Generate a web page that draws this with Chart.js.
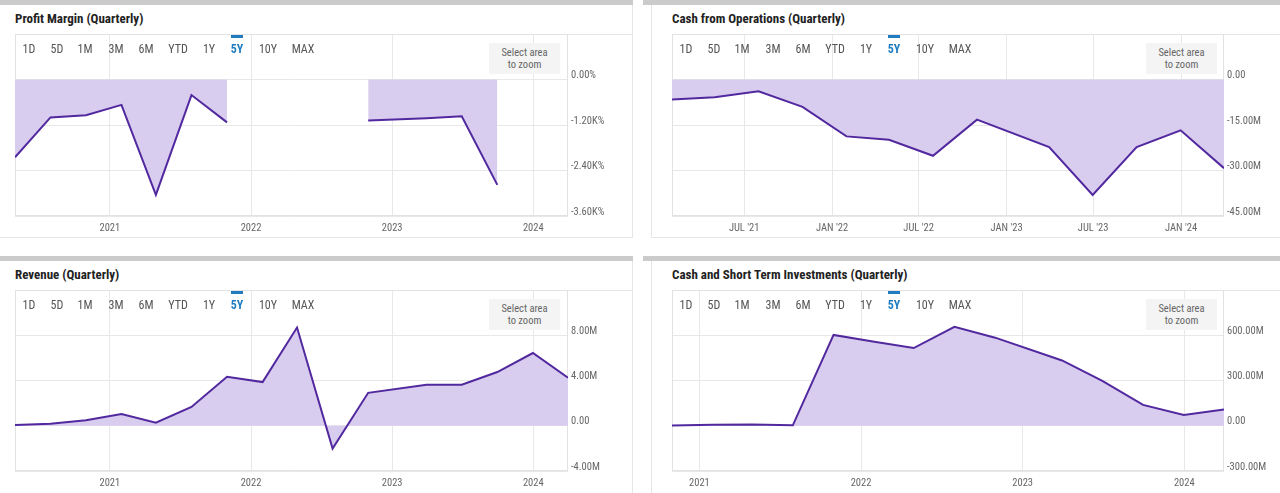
<!DOCTYPE html>
<html>
<head>
<meta charset="utf-8">
<script src="https://cdn.jsdelivr.net/npm/chart.js@4.4.1/dist/chart.umd.min.js"></script>
<style>
  html, body { margin: 0; padding: 0; width: 1280px; height: 493px; overflow: hidden; background: #ffffff; }
  body { position: relative; font-family: 'Roboto Condensed', 'Liberation Sans Narrow', 'DejaVu Sans Condensed', Roboto, sans-serif; }
  .bar { position: absolute; height: 5px; background: #cbcbcb; }
  .panel { position: absolute; box-sizing: border-box; background: #fff; }
  .title { position: absolute; font-size: 13px; font-weight: bold; color: #222; white-space: nowrap; line-height: 16px; }
  .sep { position: absolute; height: 1px; background: #e4e4e4; }
  .chartBox { position: absolute; }
  .rng { position: absolute; font-size: 12px; color: #555; transform: translateX(-50%); line-height: 14px; white-space: nowrap; }
  .rng.on { color: #1f7cc1; font-weight: bold; }
  .rngMark { position: absolute; width: 12px; height: 3px; background: #1f7cc1; }
  .zoomBox { position: absolute; width: 71px; height: 31px; background: #f4f4f4; color: #666; font-size: 10.5px; line-height: 12px; text-align: center; padding-top: 4px; box-sizing: border-box; }
</style>
</head>
<body>

<div class="bar" style="left:0; top:0; width:633px;"></div>
<div class="bar" style="left:643px; top:0; width:637px;"></div>
<div class="bar" style="left:0; top:256px; width:633px;"></div>
<div class="bar" style="left:643px; top:256px; width:637px;"></div>

<div id="panels"></div>

<script>
// ============================
// DADOS
// ============================

var quarterEnds = ['2020-04-30', '2020-07-31', '2020-10-31', '2021-01-31', '2021-04-30', '2021-07-31',
    '2021-10-31', '2022-01-31', '2022-04-30', '2022-07-31', '2022-10-31', '2023-03-31',
    '2023-06-30', '2023-09-30', '2023-12-31', '2024-03-31'];

// Profit margin, in %
var profitMargin = [-2050, -1000, -945, -670, -3040, -410, -1130, null, null, null, -1080, -1020, -970, -2780, null, null];
// Cash from operations, millions
var cashFromOps = [null, null, null, -6.6, -5.85, -3.86, -9.04, -18.75, -19.85, -25.15, -13.24, -22.28, -38.05, -22.28, -16.76, -29.23];
// Revenue, millions
var revenue = [0.06, 0.18, 0.48, 1.04, 0.27, 1.66, 4.33, 3.86, 8.68, -2.01, 2.91, 3.62, 3.62, 4.75, 6.43, 4.24];
// Cash and short term investments, millions
var cashInvestments = [null, null, 1, 6, 8, 3, 602, 557, 515, 656, 584, 433, 297, 138, 71, 107];

var yearTicks = ['2021-01-01', '2022-01-01', '2023-01-01', '2024-01-01'];
var yearTickLabels = ['2021', '2022', '2023', '2024'];
var halfYearTicks = ['2021-07-01', '2022-01-01', '2022-07-01', '2023-01-01', '2023-07-01', '2024-01-01'];
var halfYearTickLabels = ["JUL '21", "JAN '22", "JUL '22", "JAN '23", "JUL '23", "JAN '24"];

var rangeButtons = ['1D', '5D', '1M', '3M', '6M', 'YTD', '1Y', '5Y', '10Y', 'MAX'];
var rangeOffsets = [14, 42, 70, 101, 131, 163, 194, 222, 253, 288];

// ============================
// HELPERS
// ============================

function toYear(s) {
    var p = s.split('-');
    var y = +p[0];
    var t = Date.UTC(y, +p[1] - 1, +p[2]);
    var t0 = Date.UTC(y, 0, 1);
    var t1 = Date.UTC(y + 1, 0, 1);
    return y + (t - t0) / (t1 - t0);
}

var plotFrame = {
    id: 'plotFrame',
    beforeDatasetsDraw: function (chart) {
        var a = chart.chartArea;
        var ctx = chart.ctx;
        ctx.save();
        ctx.strokeStyle = '#e2e2e2';
        ctx.lineWidth = 1;
        ctx.strokeRect(Math.round(a.left) + 0.5, Math.round(a.top) + 0.5, Math.round(a.right - a.left) - 1, Math.round(a.bottom - a.top) - 1);
        ctx.restore();
    }
};

var tickFont = { family: "'Roboto Condensed', 'Liberation Sans Narrow', 'DejaVu Sans Condensed', Roboto, sans-serif", size: 10.5 };

function criarPainel(cfg) {
    var host = document.getElementById('panels');

    var panel = document.createElement('div');
    panel.className = 'panel';
    panel.style.left = cfg.left + 'px';
    panel.style.top = (cfg.top + 5) + 'px';
    panel.style.width = cfg.width + 'px';
    panel.style.height = cfg.height + 'px';
    panel.style.borderRight = cfg.borderRight ? '1px solid #e6e6e6' : 'none';
    panel.style.borderLeft = cfg.borderLeft ? '1px solid #e6e6e6' : 'none';
    panel.style.borderBottom = cfg.borderBottom ? '1px solid #e6e6e6' : 'none';
    host.appendChild(panel);

    var title = document.createElement('div');
    title.className = 'title';
    title.textContent = cfg.title;
    title.style.left = cfg.plotLeft + 'px';
    title.style.top = (cfg.top + 11) + 'px';
    host.appendChild(title);

    var sep = document.createElement('div');
    sep.className = 'sep';
    sep.style.left = cfg.plotLeft + 'px';
    sep.style.top = (cfg.top + 34) + 'px';
    sep.style.width = (cfg.left + cfg.width - cfg.plotLeft) + 'px';
    host.appendChild(sep);

    var box = document.createElement('div');
    box.className = 'chartBox';
    box.style.left = (cfg.plotLeft - 15) + 'px';
    box.style.top = (cfg.top + 34) + 'px';
    var canvas = document.createElement('canvas');
    canvas.width = cfg.canvasWidth;
    canvas.height = cfg.canvasHeight;
    box.appendChild(canvas);
    host.appendChild(box);

    rangeButtons.forEach(function (b, i) {
        var s = document.createElement('span');
        s.className = 'rng' + (b === '5Y' ? ' on' : '');
        s.textContent = b;
        s.style.left = (cfg.plotLeft + rangeOffsets[i]) + 'px';
        s.style.top = (cfg.top + 42) + 'px';
        host.appendChild(s);
        if (b === '5Y') {
            var m = document.createElement('div');
            m.className = 'rngMark';
            m.style.left = (cfg.plotLeft + rangeOffsets[i] - 6) + 'px';
            m.style.top = (cfg.top + 35) + 'px';
            host.appendChild(m);
        }
    });

    var z = document.createElement('div');
    z.className = 'zoomBox';
    z.innerHTML = 'Select area<br>to zoom';
    z.style.left = (cfg.plotLeft + 474) + 'px';
    z.style.top = (cfg.top + 43) + 'px';
    host.appendChild(z);

    var pts = [];
    quarterEnds.forEach(function (d, i) {
        pts.push({ x: toYear(d), y: cfg.values[i] });
    });

    var tickVals = cfg.ticks.map(toYear);

    return new Chart(canvas, {
        type: 'line',
        data: {
            datasets: [{
                data: pts,
                borderColor: '#52289f',
                backgroundColor: '#d8cdef',
                borderWidth: 2,
                pointRadius: 0,
                fill: 'origin',
                tension: 0,
                spanGaps: false
            }]
        },
        plugins: [plotFrame],
        options: {
            responsive: false,
            animation: false,
            layout: { padding: { left: 15, right: 0, top: 0, bottom: 0 } },
            plugins: { legend: { display: false }, tooltip: { enabled: false } },
            scales: {
                x: {
                    type: 'linear',
                    min: toYear(cfg.xStart),
                    max: toYear(quarterEnds[quarterEnds.length - 1]),
                    afterBuildTicks: function (axis) {
                        axis.ticks = tickVals.map(function (v) { return { value: v }; });
                    },
                    afterFit: function (axis) {
                        axis.height = 21;
                        axis.paddingLeft = 0;
                        axis.paddingRight = 0;
                    },
                    grid: { color: '#e8e8e8', drawTicks: false },
                    border: { display: false },
                    ticks: {
                        autoSkip: false,
                        maxRotation: 0,
                        padding: 6,
                        color: '#666',
                        font: tickFont,
                        callback: function (v) {
                            var i = tickVals.indexOf(v);
                            return i >= 0 ? cfg.tickLabels[i] : '';
                        }
                    }
                },
                y: {
                    position: 'right',
                    min: cfg.yMin,
                    max: cfg.yMax,
                    afterFit: function (axis) {
                        axis.width = cfg.axisWidth;
                        axis.paddingTop = 0;
                        axis.paddingBottom = 0;
                    },
                    grid: { color: '#e8e8e8', drawTicks: false },
                    border: { display: false },
                    ticks: {
                        stepSize: cfg.yStep,
                        padding: 3,
                        labelOffset: -4,
                        color: '#666',
                        font: tickFont,
                        callback: function (v) {
                            if (v >= cfg.yMax) return '';
                            return cfg.fmt(v);
                        }
                    }
                }
            }
        }
    });
}

// ============================
// GRÁFICOS
// ============================

criarPainel({
    title: 'Profit Margin (Quarterly)',
    left: -1, top: 0, width: 634, height: 233,
    borderRight: true, borderBottom: true,
    plotLeft: 15, canvasWidth: 633, canvasHeight: 203, axisWidth: 65,
    values: profitMargin, xStart: quarterEnds[0],
    ticks: yearTicks, tickLabels: yearTickLabels,
    yMin: -3600, yMax: 1200, yStep: 1200,
    fmt: function (v) { return v === 0 ? '0.00%' : (v / 1000).toFixed(2) + 'K%'; }
});

criarPainel({
    title: 'Cash from Operations (Quarterly)',
    left: 651, top: 0, width: 629, height: 233,
    borderLeft: true, borderBottom: true,
    plotLeft: 672, canvasWidth: 623, canvasHeight: 203, axisWidth: 56,
    values: cashFromOps, xStart: '2021-01-31',
    ticks: halfYearTicks, tickLabels: halfYearTickLabels,
    yMin: -45, yMax: 15, yStep: 15,
    fmt: function (v) { return v === 0 ? '0.00' : v.toFixed(2) + 'M'; }
});

criarPainel({
    title: 'Revenue (Quarterly)',
    left: -1, top: 256, width: 634, height: 240,
    borderRight: true,
    plotLeft: 15, canvasWidth: 633, canvasHeight: 202, axisWidth: 65,
    values: revenue, xStart: quarterEnds[0],
    ticks: yearTicks, tickLabels: yearTickLabels,
    yMin: -4, yMax: 12, yStep: 4,
    fmt: function (v) { return v === 0 ? '0.00' : v.toFixed(2) + 'M'; }
});

criarPainel({
    title: 'Cash and Short Term Investments (Quarterly)',
    left: 651, top: 256, width: 629, height: 240,
    borderLeft: true,
    plotLeft: 672, canvasWidth: 623, canvasHeight: 202, axisWidth: 56,
    values: cashInvestments, xStart: '2020-10-31',
    ticks: yearTicks, tickLabels: yearTickLabels,
    yMin: -300, yMax: 900, yStep: 300,
    fmt: function (v) { return v === 0 ? '0.00' : v.toFixed(2) + 'M'; }
});
</script>
</body>
</html>
